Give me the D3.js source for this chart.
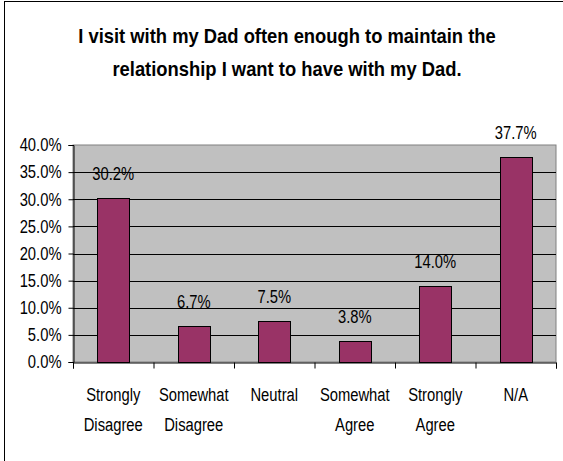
<!DOCTYPE html>
<html><head><meta charset="utf-8">
<script src="https://cdn.jsdelivr.net/npm/d3@7"></script>
<style>body{margin:0;background:#fff}svg{display:block}text{font-family:"Liberation Sans",Arial,sans-serif}</style>
</head><body><svg id="c" width="563" height="461"></svg>
<script>
const categories = [["Strongly","Disagree"],["Somewhat","Disagree"],["Neutral"],["Somewhat","Agree"],["Strongly","Agree"],["N/A"]];
const values = [30.2, 6.7, 7.5, 3.8, 14.0, 37.7];
const yTicks = [0,5,10,15,20,25,30,35,40];
const titleLines = ["I visit with my Dad often enough to maintain the","relationship I want to have with my Dad."];

const svg = d3.select("#c");
const W=563,H=461;
svg.append("rect").attr("x",4.5).attr("y",1.5).attr("width",W+10).attr("height",H+10).attr("fill","#fff").attr("stroke","#000").attr("stroke-width",1);

const L=73,R=556,T=145,B=362;
const idx = categories.map((d,i)=>i);
const x = d3.scaleBand().domain(idx).range([L,R]).paddingInner(0.6).paddingOuter(0.3);
const xb = d3.scaleLinear().domain([0,6]).range([L,R]);
const y = d3.scaleLinear().domain([0,40]).range([B,T]);

function narrow(sel, f){
  sel.each(function(){ const w=this.getComputedTextLength(); if(w>0){ this.setAttribute("textLength", w*f); this.setAttribute("lengthAdjust","spacingAndGlyphs"); } });
}

svg.append("rect").attr("x",L).attr("y",T).attr("width",R-L).attr("height",B-T).attr("fill","#c0c0c0").attr("stroke","#808080");

svg.append("g").selectAll("line").data(yTicks.filter(d=>d>0&&d<40)).join("line")
 .attr("x1",L).attr("x2",R).attr("y1",d=>Math.round(y(d))+0.5).attr("y2",d=>Math.round(y(d))+0.5).attr("stroke","#000");

svg.append("g").selectAll("rect").data(values).join("rect")
 .attr("x",(d,i)=>Math.round(x(i))+0.5).attr("width",Math.round(x.bandwidth()))
 .attr("y",d=>Math.round(y(d))+0.5).attr("height",d=>Math.round(B-y(d)))
 .attr("fill","#993366").attr("stroke","#000");

const yAxis = d3.axisLeft(y).tickValues(yTicks).tickSize(5).tickPadding(7).tickFormat(d=>d.toFixed(1)+"%");
const gy = svg.append("g").attr("transform",`translate(${L+0.5},0)`).call(yAxis);
gy.select(".domain").attr("stroke","#000");
gy.selectAll("line").attr("stroke","#000");
gy.selectAll("text").attr("font-size",18).attr("fill","#000").style("font-family",'"Liberation Sans",Arial,sans-serif');
narrow(gy.selectAll("text"),0.82);

const xAxis = d3.axisBottom(xb).tickValues([0,1,2,3,4,5,6]).tickSize(6).tickFormat("");
const gx = svg.append("g").attr("transform",`translate(0,${B+0.5})`).call(xAxis);
gx.select(".domain").attr("stroke","#000");
gx.selectAll("line").attr("stroke","#000");

const vl = svg.append("g").selectAll("text").data(values).join("text")
 .attr("x",(d,i)=>x(i)+x.bandwidth()/2).attr("y",d=>y(d)-18)
 .attr("text-anchor","middle").attr("font-size",18).text(d=>d.toFixed(1)+"%");
narrow(vl,0.82);

const cl = svg.append("g").selectAll("text").data(categories).join("text")
 .attr("text-anchor","middle").attr("font-size",18)
 .attr("x",(d,i)=>x(i)+x.bandwidth()/2).attr("y",401);
const ts = cl.selectAll("tspan").data(d=>d).join("tspan")
 .attr("x",function(){return this.parentNode.getAttribute("x");})
 .attr("dy",(d,i)=>i?30:0).text(d=>d);
narrow(ts,0.82);

const tl = svg.append("g").selectAll("text").data(titleLines).join("text")
 .attr("x",287).attr("y",(d,i)=>43+i*33).attr("text-anchor","middle")
 .attr("font-size",21).attr("font-weight","bold").text(d=>d);
narrow(tl,0.875);
</script></body></html>
